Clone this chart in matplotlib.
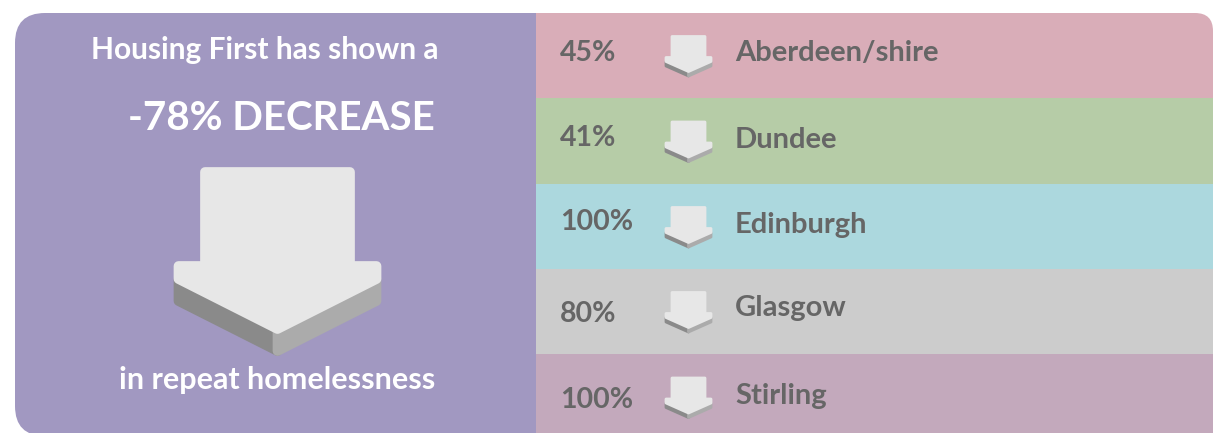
"""
Housing First infographic: headline decrease plus per-city repeat-homelessness drops.
"""
import matplotlib

matplotlib.use("Agg")
import matplotlib.pyplot as plt
from matplotlib.patches import FancyBboxPatch, Polygon, Rectangle

# ---- data ----
HEADLINE_TOP = "Housing First has shown a"
HEADLINE_VALUE = -78
HEADLINE_BOTTOM = "in repeat homelessness"

cities = ["Aberdeen/shire", "Dundee", "Edinburgh", "Glasgow", "Stirling"]
decrease_pct = [45, 41, 100, 80, 100]
row_colors = ["#d9adb8", "#b6cca7", "#acd8de", "#cccccc", "#c3a9bc"]

# ---- layout (pixels, y grows downward) ----
W, H = 1214, 433
PANEL_COLOR = "#a198c1"
TEXT_GREY = "#666666"
FACE = "#e7e7e7"
SIDE_L = "#8a8a8a"
SIDE_R = "#ababab"
FONT = ["Lato", "DejaVu Sans"]

ROW_X0, ROW_X1 = 536, 1213
ROW_EDGES = [13, 98, 184, 269, 354, 440]
PCT_OFF = [5.5, 5.0, 3.5, 10.5, 11.0]
NAME_OFF = [5.5, 7.0, 6.5, 4.5, 7.0]


def draw_arrow(ax, cx, top, shaft_hw, head_hw, wing_y, wing_h, tip_y, depth, lw):
    # extruded sides first, then the top face
    left = [(cx - head_hw, wing_y + wing_h), (cx, tip_y),
            (cx, tip_y + depth), (cx - head_hw, wing_y + wing_h + depth)]
    right = [(cx, tip_y), (cx + head_hw, wing_y + wing_h),
             (cx + head_hw, wing_y + wing_h + depth), (cx, tip_y + depth)]
    ax.add_patch(Polygon(left, closed=True, fc=SIDE_L, ec=SIDE_L, lw=lw,
                         joinstyle="round", zorder=3))
    ax.add_patch(Polygon(right, closed=True, fc=SIDE_R, ec=SIDE_R, lw=lw,
                         joinstyle="round", zorder=3))
    face = [(cx - shaft_hw, top), (cx + shaft_hw, top), (cx + shaft_hw, wing_y),
            (cx + head_hw, wing_y), (cx + head_hw, wing_y + wing_h), (cx, tip_y),
            (cx - head_hw, wing_y + wing_h), (cx - head_hw, wing_y),
            (cx - shaft_hw, wing_y)]
    ax.add_patch(Polygon(face, closed=True, fc=FACE, ec=FACE, lw=lw,
                         joinstyle="round", zorder=4))


fig = plt.figure(figsize=(W / 100, H / 100), dpi=100)
ax = fig.add_axes([0, 0, 1, 1])
ax.set_xlim(0, W)
ax.set_ylim(H, 0)
ax.axis("off")

# left panel
left_clip = FancyBboxPatch((15, 13), 600, 423, boxstyle="round,pad=0,rounding_size=30",
                           fc="none", ec="none")
ax.add_patch(left_clip)
lp = Rectangle((15, 13), 540, 430, fc=PANEL_COLOR, ec="none", zorder=1)
ax.add_patch(lp)
lp.set_clip_path(left_clip)

ax.text(265, 59, HEADLINE_TOP, ha="center", va="baseline", color="white",
        fontsize=21.5, fontweight="bold", family=FONT, zorder=5)
ax.text(281, 130, f"{HEADLINE_VALUE}% DECREASE", ha="center", va="baseline",
        color="white", fontsize=29, fontweight="bold", family=FONT, zorder=5)
ax.text(277.5, 389, HEADLINE_BOTTOM, ha="center", va="baseline", color="white",
        fontsize=22, fontweight="bold", family=FONT, zorder=5)

draw_arrow(ax, 277.5, 172, 72.5, 99, 266, 13, 329, 22, 7)

# right rows
right_clip = FancyBboxPatch((400, 13), ROW_X1 - 400, 440,
                            boxstyle="round,pad=0,rounding_size=18",
                            fc="none", ec="none")
ax.add_patch(right_clip)
for i, (city, pct, col) in enumerate(zip(cities, decrease_pct, row_colors)):
    y0, y1 = ROW_EDGES[i], ROW_EDGES[i + 1]
    r = Rectangle((ROW_X0, y0), ROW_X1 - ROW_X0, y1 - y0, fc=col, ec="none", zorder=1)
    ax.add_patch(r)
    r.set_clip_path(right_clip)
    mid = (y0 + y1) / 2
    ax.text(560, mid + PCT_OFF[i], f"{pct}%", ha="left", va="baseline",
            color=TEXT_GREY, fontsize=20.5, fontweight="bold", family=FONT, zorder=5)
    ax.text(735, mid + NAME_OFF[i], city, ha="left", va="baseline",
            color=TEXT_GREY, fontsize=21, fontweight="bold", family=FONT, zorder=5)
    draw_arrow(ax, 688.5, mid - 19, 16.5, 22.5, mid + 2, 4, mid + 16, 4.5, 2)

fig.savefig("out.png", dpi=100)
